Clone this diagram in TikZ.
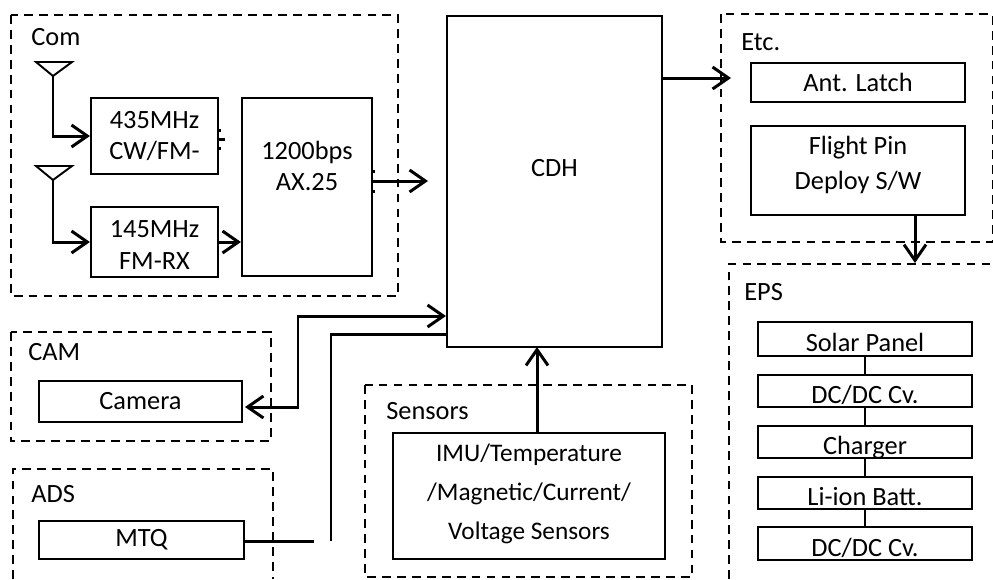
\documentclass[tikz,border=0pt]{standalone}
\usepackage{fontspec}
\setmainfont{Carlito}
\usetikzlibrary{arrows.meta,positioning}
\tikzstyle{every edge}=[-,line width=1.5pt,draw]
\tikzstyle{group}=[draw,line width=1pt,dash pattern=on 5pt off 3.5pt]
\tikzstyle{block}=[draw,line width=1.2pt,align=center,inner sep=0pt,font=\fontsize{15}{18}\selectfont]
\tikzstyle{lowblock}=[block,text height=14.5pt,text depth=0.2pt]
\tikzstyle{grouptitle}=[inner sep=0pt,anchor=west,font=\fontsize{15}{18}\selectfont]
\tikzstyle{link}=[line width=1.7pt,>={Straight Barb[length=9pt,width=12.5pt]}]

\begin{document}
\begin{tikzpicture}[x=0.02cm,y=-0.02cm]
        \useasboundingbox (0,0) rectangle (993,579);
        % Dashed groups:
        \draw[group] (11,15) rectangle (398,296);
        \draw[group] (11,332) rectangle (271,441);
        \draw[group] (13,579) -- (13,469) -- (273,469) -- (273,579);
        \draw[group] (365,385) rectangle (692,577);
        \draw[group] (721,14) rectangle (992.5,242);
        \draw[group] (729,579) -- (729,264) -- (993,264);
        % Group titles:
        \node (com_t) [grouptitle] at (31,37) {Com};
        \node (cam_t) [grouptitle] at (28,352) {CAM};
        \node (ads_t) [grouptitle] at (31,494) {ADS};
        \node (sen_t) [grouptitle] at (386,411) {Sensors};
        \node (etc_t) [grouptitle] at (741,42) {Etc.};
        \node (eps_t) [grouptitle] at (744,292) {EPS};
        % Com:
        \node (tx) [block,minimum width=127*0.02cm,minimum height=76*0.02cm] at (154.5,136) {435MHz\\CW/FM-};
        \node (rx) [block,minimum width=127*0.02cm,minimum height=70*0.02cm] at (154.5,242) {\mbox{}\\[-5.2pt]145MHz\\FM-RX};
        \node (tnc) [block,minimum width=130*0.02cm,minimum height=178*0.02cm] at (307,187) {1200bps\\AX.25\\[6pt]\mbox{}};
        % Middle:
        \node (cdh) [block,minimum width=215*0.02cm,minimum height=331*0.02cm,text height=10pt,text depth=15.3pt] at (554.5,181.5) {CDH};
        \node (cam) [block,minimum width=203*0.02cm,minimum height=41*0.02cm] at (140.5,401.5) {Camera};
        \node (mtq) [block,minimum width=205*0.02cm,minimum height=38*0.02cm] at (141.5,540) {MTQ};
        \node (sen) [block,minimum width=272*0.02cm,minimum height=126*0.02cm,font=\fontsize{14.4}{22}\selectfont] at (529,496) {IMU/Temperature\\/Magnetic/Current/\\Voltage Sensors\\[-17pt]\mbox{}};
        % Etc:
        \node (ant) [block,minimum width=214*0.02cm,minimum height=39*0.02cm] at (858,82.5) {Ant. Latch};
        \node (pin) [block,minimum width=214*0.02cm,minimum height=89*0.02cm,font=\fontsize{15}{20}\selectfont] at (858,170.5) {Flight Pin\\Deploy S/W\\[-11.6pt]\mbox{}};
        % EPS:
        \node (sol) [lowblock,minimum width=214*0.02cm,minimum height=34*0.02cm] at (865,339) {Solar Panel};
        \node (dc1) [lowblock,minimum width=214*0.02cm,minimum height=32*0.02cm] at (865,391) {DC/DC Cv.};
        \node (chg) [lowblock,minimum width=214*0.02cm,minimum height=32*0.02cm] at (865,442) {Charger};
        \node (bat) [lowblock,minimum width=214*0.02cm,minimum height=32*0.02cm] at (865,493) {Li-ion Batt.};
        \node (dc2) [lowblock,minimum width=214*0.02cm,minimum height=33*0.02cm] at (865,543.5) {DC/DC Cv.};
        % Antennas:
        \coordinate (a1) at (53,76);
        \coordinate (a2) at (53,180);
        \draw[line width=1.1pt] (a1) -- (36,62) -- (72,62) -- cycle;
        \draw[line width=1.1pt] (a2) -- (36,166) -- (72,166) -- cycle;
        \draw[link,->] (a1) |- (tx.west);
        \draw[link,->] (a2) |- (rx.west);
        % Links:
        \draw[link,->] (rx.east) -- (tnc.west |- rx.east);
        \coordinate (c1) at (428,181);
        \draw[link,->] (tnc.east |- c1) -- (c1);
        \coordinate (c2) at (731,78);
        \draw[link,->] (cdh.east |- c2) -- (c2);
        \coordinate (c3) at (298,316);
        \coordinate (c9) at (245,407);
        \draw[link,<->] (c9) -| (c3) -- (cdh.west |- c3);
        \coordinate (c4) at (331,334);
        \coordinate (c5) at (331,541);
        \coordinate (c6) at (314,541);
        \draw[link] (c5) -- (c4) -- (cdh.west |- c4);
        \draw[link] (mtq.east |- c6) -- (c6);
        \coordinate (c7) at (537,347);
        \draw[link,->] (sen.north -| c7) -- (c7);
        \coordinate (c8) at (915,263);
        \draw[link,->] (pin.south -| c8) -- (c8);
        % Stubs on the boxes:
        \coordinate (s1) at (225,139);
        \coordinate (s2) at (221,130);
        \coordinate (s3) at (221,148);
        \coordinate (s4) at (375,171);
        \coordinate (s5) at (375,191);
        \draw[link] (tx.east |- s1) -- (s1);
        \draw[link] (tx.east |- s2) -- (s2);
        \draw[link] (tx.east |- s3) -- (s3);
        \draw[link] (tnc.east |- s4) -- (s4);
        \draw[link] (tnc.east |- s5) -- (s5);
        \path
        (sol) edge (dc1)
        (dc1) edge (chg)
        (chg) edge (bat)
        (bat) edge (dc2);
\end{tikzpicture}
\end{document}
